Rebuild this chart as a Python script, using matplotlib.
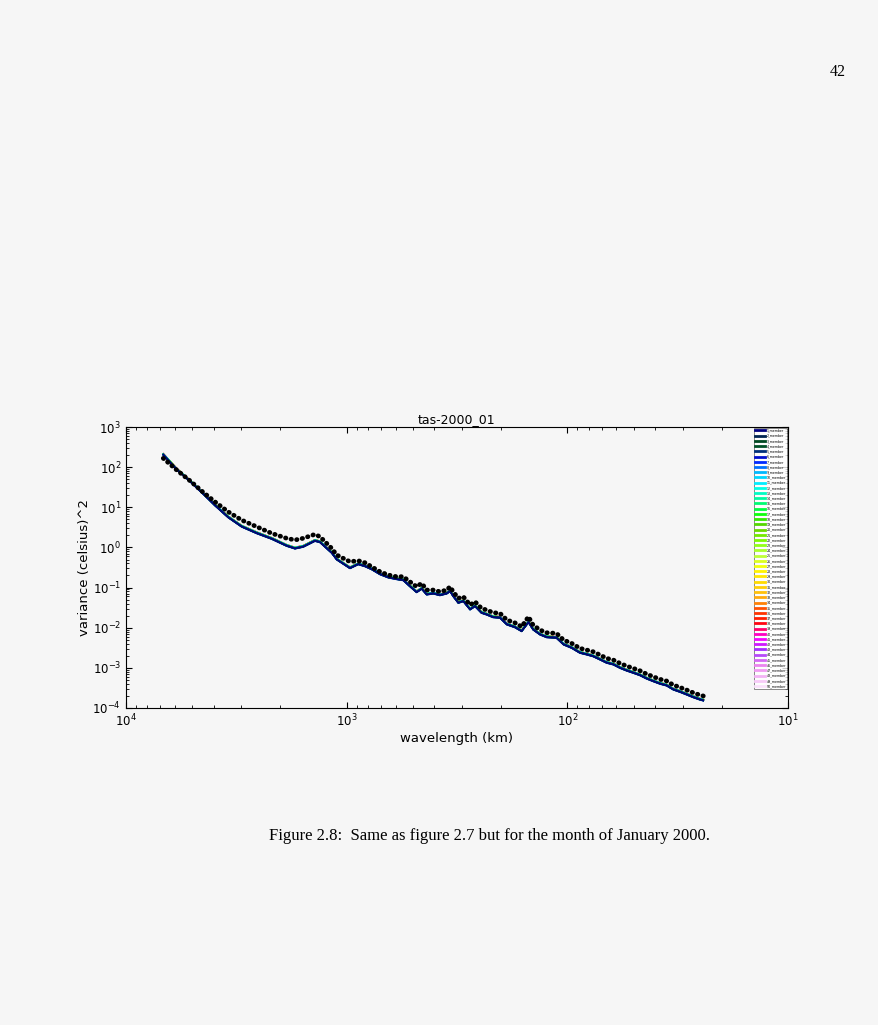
import matplotlib
matplotlib.use("Agg")
import matplotlib.pyplot as plt
import numpy as np

# wavelength (km) of the read-off points
wavelength = [6776, 5891, 5129, 4492, 3952, 3440, 2991, 2557, 2188, 1871,
              1715, 1573, 1392, 1321, 1169, 1110, 1036, 966, 886, 826,
              771, 706, 648, 594, 554, 517, 482, 457, 434, 405,
              378, 352, 340, 329, 312, 296, 276, 262, 245, 232,
              217, 202, 188, 173, 161, 150, 143, 133, 124, 112,
              104, 95.6, 87.7, 81.8, 76.4, 71.1, 66.4, 61.9, 57.8, 53.9,
              50.3, 46.9, 43.8, 40.8, 38.0, 35.5, 33.1, 30.9, 28.8, 26.9,
              25.1, 24.2]

# observed spectrum (black dotted line)
obs_var = [166, 84.9, 45.9, 24.3, 13.7, 7.7, 4.8, 3.28, 2.25, 1.69,
           1.53, 1.69, 2.12, 1.85, 0.95, 0.65, 0.536, 0.441, 0.467, 0.416,
           0.331, 0.248, 0.206, 0.187, 0.187, 0.140, 0.105, 0.128, 0.0869, 0.0869,
           0.0789, 0.0869, 0.105, 0.0789, 0.054, 0.0592, 0.0368, 0.0445, 0.0304, 0.0276,
           0.0237, 0.0229, 0.0156, 0.0133, 0.0106, 0.0188, 0.0117, 0.00877, 0.0075, 0.00724,
           0.00494, 0.00408, 0.00307, 0.00279, 0.00252, 0.00209, 0.00173, 0.00157, 0.0013, 0.00111,
           0.000975, 0.000849, 0.000703, 0.000601, 0.000519, 0.00047, 0.000374, 0.000327, 0.000281, 0.00024,
           0.00021, 0.000199]

# ensemble members (solid lines), typical level
member_var = [209, 89.9, 45.9, 22.9, 11.5, 5.78, 3.40, 2.33, 1.69, 1.13,
              0.967, 1.07, 1.50, 1.39, 0.755, 0.517, 0.403, 0.313, 0.393, 0.350,
              0.295, 0.221, 0.184, 0.167, 0.157, 0.111, 0.0789, 0.0961, 0.0691, 0.0732,
              0.0664, 0.0732, 0.0835, 0.0627, 0.0429, 0.0471, 0.0293, 0.0354, 0.0242, 0.0219,
              0.0188, 0.0182, 0.0124, 0.0106, 0.00843, 0.0141, 0.0093, 0.00697, 0.00596, 0.00576,
              0.00393, 0.00324, 0.00244, 0.00222, 0.0020, 0.00166, 0.00138, 0.00125, 0.00103, 0.000882,
              0.000775, 0.000675, 0.000559, 0.000478, 0.000413, 0.000374, 0.000297, 0.00026, 0.000223, 0.000191,
              0.000167, 0.000158]

# relative level of each of the 50 members
member_scale = [0.97, 0.99, 0.96, 1.00, 0.98, 0.95, 1.01, 0.97, 0.99, 0.96,
                1.02, 0.98, 1.00, 0.97, 1.03, 0.99, 1.01, 0.98, 1.02, 1.00,
                0.97, 1.01, 0.99, 1.03, 0.98, 1.00, 1.02, 0.97, 1.01, 0.99,
                1.03, 1.00, 0.98, 1.02, 1.01, 0.99, 1.04, 1.00, 1.02, 0.98,
                1.01, 1.03, 0.99, 1.02, 1.00, 1.04, 1.01, 1.03, 1.00, 1.02]
member_names = [f"{i}_member" for i in range(1, 51)]

bg = '#f6f6f6'
fig = plt.figure(figsize=(8.79, 10.25), dpi=100, facecolor=bg)
ax = fig.add_axes([0.1433, 0.3093, 0.7532, 0.2741], facecolor=bg)

cmap = plt.get_cmap('gist_ncar')
wl = np.array(wavelength)
for i, (name, s) in enumerate(zip(member_names, member_scale)):
    ax.plot(wl, np.array(member_var) * s, '-', color=cmap(i / 50.0), lw=1.0,
            label=name, zorder=2 + (50 - i) * 0.01)

ax.plot(wl, obs_var, color='black', lw=3.4, linestyle=(0, (0.1, 1.1)),
        dash_capstyle='round', zorder=4)

ax.set_xscale('log')
ax.set_yscale('log')
ax.set_xlim(1e4, 1e1)
ax.set_ylim(1e-4, 1e3)
ax.tick_params(which='both', direction='in', top=True, right=True, labelsize=8.5)
ax.tick_params(which='major', length=4)
ax.tick_params(which='minor', length=2)
ax.set_title('tas-2000_01', fontsize=9, pad=3)
ax.set_xlabel('wavelength (km)', fontsize=9.5, labelpad=2)
ax.set_ylabel('variance (celsius)^2', fontsize=9.5, labelpad=1)

leg = ax.legend(loc='upper right', fontsize=2.3, labelspacing=0.38, handlelength=3.2,
                borderaxespad=0.2, borderpad=0.3, handletextpad=0.5, frameon=True,
                fancybox=False)
leg.get_frame().set_edgecolor('#555555')
leg.get_frame().set_linewidth(0.6)
for h in leg.get_lines():
    h.set_linewidth(2.0)

fig.text(0.953, 0.926, '42', fontsize=11.5, family='Liberation Serif', ha='center')
fig.text(0.557, 0.180, 'Figure 2.8:  Same as figure 2.7 but for the month of January 2000.',
         fontsize=12, family='Liberation Serif', ha='center')

fig.savefig('out.png', dpi=100, facecolor=bg)
